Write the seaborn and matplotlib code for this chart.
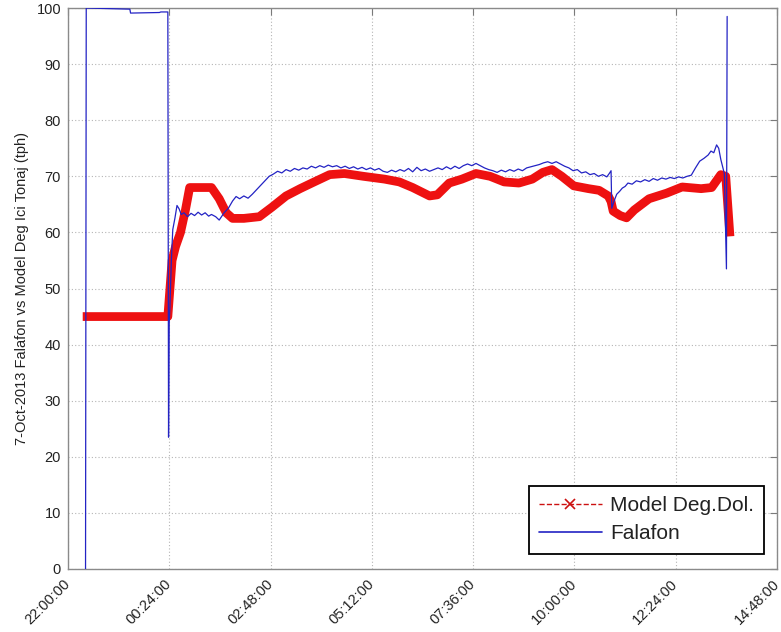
import matplotlib
matplotlib.use("Agg")
import matplotlib.pyplot as plt
import matplotlib.dates as mdates
from matplotlib.lines import Line2D
import pandas as pd
import seaborn as sns

# ---- data -------------------------------------------------------------
# Model output (tph), clock times on 6/7 Oct 2013
model_time = [
    "22:21", "00:22", "00:25", "00:28", "00:33", "00:40", "00:47", "00:53",
    "01:24", "01:35", "01:45", "01:54", "02:10", "02:32", "02:50", "03:10",
    "03:30", "03:50", "04:12", "04:33", "05:00", "05:30", "05:51", "06:10",
    "06:34", "06:45", "07:02", "07:20", "07:40", "08:00", "08:20", "08:41",
    "09:00", "09:15", "09:28", "09:42", "09:59", "10:20", "10:35", "10:48",
    "10:52", "10:55", "11:05", "11:14", "11:25", "11:46", "12:11", "12:33",
    "13:00", "13:15", "13:28", "13:35", "13:41",
]
model_tph = [
    45.0, 45.0, 50.0, 55.0, 57.5, 60.0, 64.0, 68.0,
    68.0, 66.0, 63.5, 62.5, 62.5, 62.8, 64.5, 66.5,
    67.8, 69.0, 70.3, 70.5, 70.0, 69.5, 69.0, 68.0,
    66.5, 66.7, 68.8, 69.5, 70.5, 70.0, 69.0, 68.8,
    69.5, 70.7, 71.2, 70.0, 68.3, 67.8, 67.5, 66.5,
    65.5, 63.8, 63.0, 62.6, 64.0, 66.0, 67.0, 68.1,
    67.8, 68.0, 70.3, 70.0, 59.3,
]

# Measured flow (Falafon), tph
falafon_time = [
    "22:25", "22:26", "23:28", "23:29", "00:10", "00:12", "00:22", "00:23",
    "00:24", "00:25", "00:27", "00:29", "00:32", "00:35", "00:38", "00:41",
    "00:45", "00:50", "00:55", "01:00", "01:05", "01:10", "01:15", "01:20",
    "01:24", "01:30", "01:35", "01:42", "01:48", "01:54", "01:59", "02:04",
    "02:10", "02:16", "02:22", "02:28", "02:34", "02:40", "02:46", "02:52",
    "02:58", "03:04", "03:10", "03:16", "03:22", "03:28", "03:34", "03:40",
    "03:46", "03:52", "03:58", "04:04", "04:10", "04:16", "04:22", "04:28",
    "04:34", "04:40", "04:46", "04:52", "04:58", "05:04", "05:10", "05:16",
    "05:22", "05:28", "05:34", "05:40", "05:46", "05:52", "05:58", "06:04",
    "06:10", "06:16", "06:22", "06:28", "06:34", "06:40", "06:46", "06:52",
    "06:58", "07:04", "07:10", "07:16", "07:22", "07:28", "07:34", "07:40",
    "07:46", "07:52", "07:58", "08:04", "08:10", "08:16", "08:22", "08:28",
    "08:34", "08:40", "08:46", "08:52", "08:58", "09:04", "09:10", "09:16",
    "09:22", "09:28", "09:34", "09:40", "09:46", "09:52", "09:58", "10:04",
    "10:10", "10:16", "10:22", "10:28", "10:34", "10:40", "10:46", "10:50",
    "10:52", "10:53", "10:56", "11:00", "11:04", "11:08", "11:12", "11:16",
    "11:22", "11:28", "11:34", "11:40", "11:46", "11:52", "11:58", "12:04",
    "12:10", "12:16", "12:22", "12:28", "12:34", "12:40", "12:46", "12:52",
    "12:58", "13:04", "13:10", "13:14", "13:18", "13:22", "13:25", "13:28",
    "13:33", "13:36", "13:37",
]
falafon_tph = [
    0.0, 100.0, 99.8, 99.1, 99.2, 99.3, 99.3, 23.5,
    44.0, 47.0, 55.0, 60.5, 62.5, 64.8, 64.2, 63.2,
    63.5, 62.8, 63.4, 63.0, 63.6, 63.1, 63.5, 62.9,
    63.2, 62.8, 62.2, 63.5, 64.3, 65.6, 66.4, 66.0,
    66.5, 66.1, 66.8, 67.6, 68.4, 69.2, 70.0, 70.4,
    70.9, 70.6, 71.2, 70.9, 71.4, 71.1, 71.5, 71.3,
    71.8, 71.5, 71.9, 71.6, 72.0, 71.7, 71.9, 71.5,
    71.8, 71.4, 71.7, 71.3, 71.6, 71.2, 71.5, 71.1,
    71.4, 70.9, 70.7, 71.1, 70.8, 71.2, 70.9, 71.4,
    70.8, 71.6, 71.0, 71.3, 70.9, 71.2, 71.5, 71.2,
    71.7, 71.3, 71.8, 71.4, 71.9, 72.2, 71.9, 72.3,
    71.9, 71.5, 71.2, 71.0, 70.7, 71.1, 70.8, 71.2,
    70.9, 71.3, 71.0, 71.5, 71.7, 71.9, 72.1, 72.4,
    72.6, 72.3, 72.6, 72.2, 71.8, 71.5, 71.0, 71.2,
    70.6, 70.8, 70.3, 70.5, 70.0, 70.3, 69.9, 70.6,
    71.0, 64.3, 65.5, 66.8, 67.3, 67.9, 68.2, 68.8,
    68.6, 69.2, 69.0, 69.4, 69.1, 69.6, 69.3, 69.7,
    69.5, 69.8, 69.6, 69.9, 69.7, 70.0, 70.2, 71.5,
    72.7, 73.2, 73.8, 74.5, 74.2, 75.6, 75.0, 73.0,
    70.5, 53.5, 98.5,
]

y_ticks = list(range(0, 101, 10))
start, stop = "22:00", "14:48"
labels = ["Model Deg.Dol.", "Falafon"]
y_label = "7-Oct-2013 Falafon vs Model Deg Ici Tonaj (tph)"


def to_stamp(clock):
    """Clock time -> timestamp; hours before 22:00 belong to 7 Oct."""
    h, m = map(int, clock.split(":"))
    day = "2013-10-06" if h >= 22 else "2013-10-07"
    return pd.Timestamp(f"{day} {h:02d}:{m:02d}")


model = pd.DataFrame({"time": [to_stamp(t) for t in model_time], "tph": model_tph})
meas = pd.DataFrame({"time": [to_stamp(t) for t in falafon_time], "tph": falafon_tph})

# ---- style ------------------------------------------------------------
sns.set_style("white")
plt.rcParams["font.family"] = ["Liberation Sans", "DejaVu Sans"]

fig = plt.figure(figsize=(7.81, 6.32), dpi=100)
ax = fig.add_axes([0.087, 0.0997, 0.908, 0.8876])

red = "#ee1111"
blue = "#2323c4"

sns.lineplot(data=model, x="time", y="tph", ax=ax, color=red, lw=6.3,
             estimator=None, sort=False, zorder=3, legend=False,
             solid_capstyle="butt", solid_joinstyle="round")
sns.lineplot(data=meas, x="time", y="tph", ax=ax, color=blue, lw=0.9,
             estimator=None, sort=False, zorder=4, legend=False)

# ---- axes -------------------------------------------------------------
t0, t1 = to_stamp(start), to_stamp(stop)
ax.set_xlim(t0, t1)
ax.set_ylim(0, 100)
ax.set_yticks(y_ticks)
ax.set_xticks(pd.date_range(t0, t1, freq="144min"))
ax.xaxis.set_major_formatter(mdates.DateFormatter("%H:%M:%S"))

for lab in ax.get_xticklabels():
    lab.set_rotation(45)
    lab.set_ha("right")
    lab.set_va("center")
    lab.set_rotation_mode("anchor")

ax.tick_params(axis="both", direction="in", length=5, width=0.8,
               colors="#7a7a7a", labelcolor="#222222", labelsize=10.5,
               top=True, right=True, pad=5)
ax.tick_params(axis="x", pad=9)

ax.grid(True, linestyle=(0, (1, 2)), color="#b5b5b5", linewidth=0.8)
for s in ax.spines.values():
    s.set_color("#8a8a8a")
    s.set_linewidth(1.0)

ax.set_xlabel("")
ax.set_ylabel(y_label, fontsize=10.5, color="#222222", labelpad=5)

handles = [
    Line2D([0], [0], color="#cc1111", lw=1.0, ls="--", marker="x",
           markersize=7, markeredgewidth=1.2),
    Line2D([0], [0], color=blue, lw=1.2),
]
leg = ax.legend(handles, labels, loc="lower right",
                bbox_to_anchor=(0.982, 0.027), borderaxespad=0,
                fontsize=15, handlelength=3.0, handletextpad=0.4,
                labelspacing=0.45, borderpad=0.5, fancybox=False,
                framealpha=1, edgecolor="black")
leg.get_frame().set_linewidth(1.3)
for txt in leg.get_texts():
    txt.set_color("#222222")

fig.savefig("out.png", dpi=100)
